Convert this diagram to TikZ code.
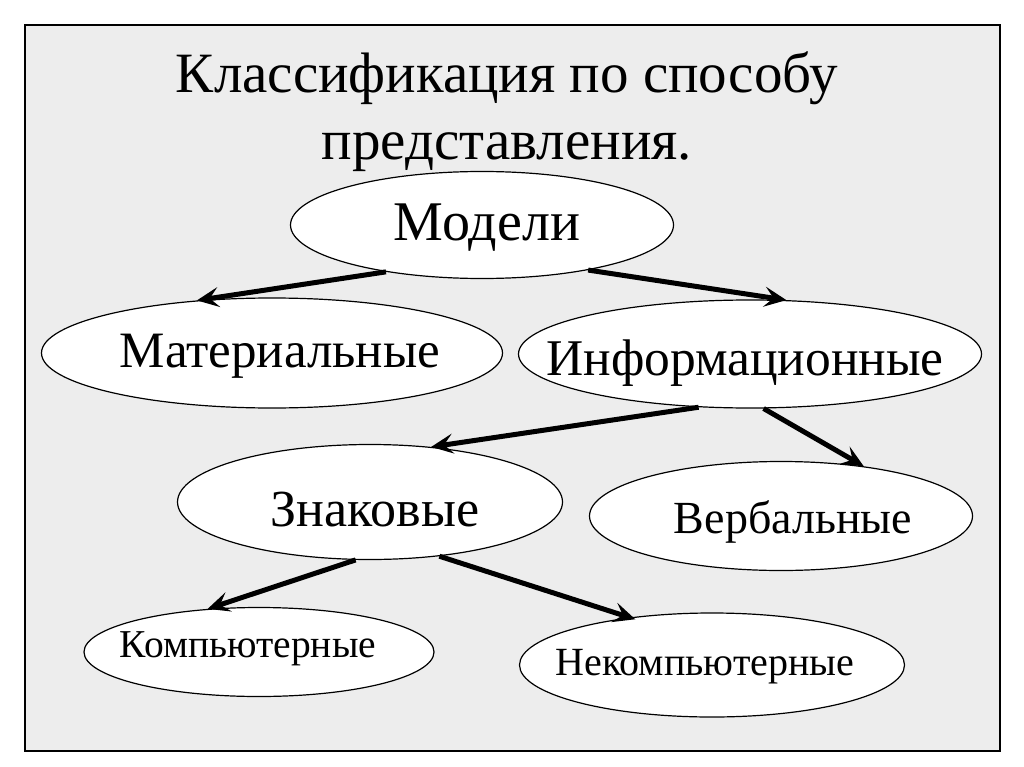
\documentclass[tikz,border=0pt]{standalone}
\usepackage{fontspec}
\setmainfont{Liberation Serif}
\usetikzlibrary{shapes.geometric,arrows.meta}

\begin{document}
\begin{tikzpicture}[x=1pt,y=-1pt,
    oval/.style={ellipse, draw, fill=white, line width=1.2pt, inner sep=0pt},
    link/.style={line width=5pt, -{Stealth[length=22pt,width=20pt,inset=9pt]}}]
    % Frame
    \useasboundingbox (0,0) rectangle (1024,767);
    \fill[white] (0,0) rectangle (1024,767);
    \draw[fill=black!7, line width=1.8pt] (25,25) rectangle (1000,751);

    % Title
    \node[align=center, font=\fontsize{57}{67}\selectfont] (title) at (507,112)
        {Классификация по способу\\представления.};

    % Ellipses
    \node[oval, minimum width=383, minimum height=107] (modeli) at (482,225) {};
    \node[oval, minimum width=461, minimum height=110] (mater) at (272,353) {};
    \node[oval, minimum width=463, minimum height=108] (inform) at (750,354) {};
    \node[oval, minimum width=385, minimum height=115] (znak) at (370,502) {};
    \node[oval, minimum width=383, minimum height=109] (verb) at (781,516) {};
    \node[oval, minimum width=350, minimum height=89] (komp) at (259,652) {};
    \node[oval, minimum width=385, minimum height=104] (nekomp) at (712,665) {};

    % Labels
    \node[font=\fontsize{56}{60}\selectfont] (tmodeli) at (487,228) {Модели};
    \node[font=\fontsize{51}{60}\selectfont] (tmater) at (280,356) {Материальные};
    \node[font=\fontsize{51.5}{60}\selectfont] (tinform) at (745,363) {Информационные};
    \node[font=\fontsize{52}{60}\selectfont] (tznak) at (375,510) {Знаковые};
    \node[font=\fontsize{46}{60}\selectfont] (tverb) at (793,522) {Вербальные};
    \node[font=\fontsize{39.5}{50}\selectfont] (tkomp) at (248,649) {Компьютерные};
    \node[font=\fontsize{40}{50}\selectfont] (tnekomp) at (705,667) {Некомпьютерные};

    % Arrows
    \draw[link] (modeli.206) -- (mater.145);
    \draw[link] (modeli.337) -- (inform.56);
    \draw[link] (inform.226) -- (znak.42);
    \draw[link] (inform.284) -- (verb.31);
    \draw[link] (znak.256) -- (komp.140);
    \draw[link, shorten >=-6pt] (znak.322) -- (nekomp.150);
\end{tikzpicture}
\end{document}
